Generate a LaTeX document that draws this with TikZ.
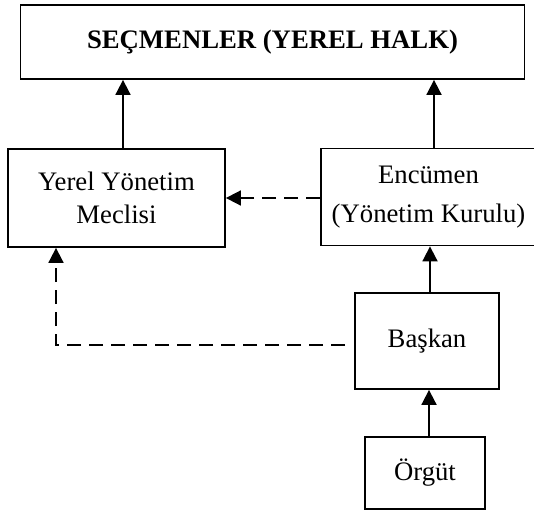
\documentclass[tikz,border=0pt]{standalone}
\usepackage{fontspec}
\setmainfont{Liberation Serif}
\usetikzlibrary{arrows.meta,calc}
\begin{document}
\begin{tikzpicture}[x=1pt,y=1pt,
  box/.style={draw,line width=1.8pt,rectangle,inner sep=0pt,align=center,
    font=\fontsize{26.7}{32.5}\selectfont},
  solidarrow/.style={line width=1.8pt,-{Triangle[length=15pt,width=15pt]}},
  dasharrow/.style={line width=1.8pt,dash pattern=on 14pt off 8pt,
    -{Triangle[length=15pt,width=15pt]}}]
\useasboundingbox (0,0) rectangle (534,-514);

% boxes
\node[box,minimum width=504pt,minimum height=74pt] (voters) at (272.5,-42)
  {\textbf{SEÇMENLER (YEREL HALK)}};
\node[box,minimum width=217pt,minimum height=98pt] (council) at (116.5,-198)
  {Yerel Yönetim\\Meclisi};
\node[box,minimum width=215pt,minimum height=97pt] (committee) at (428.5,-197)
  {Encümen\\[7pt](Yönetim Kurulu)};
\node[box,minimum width=144pt,minimum height=96pt,text height=21pt,text depth=8pt] (mayor) at (427,-341)
  {Başkan};
\node[box,minimum width=120pt,minimum height=72pt] (org) at (425,-473)
  {Örgüt};

% solid connectors
\draw[solidarrow] ([xshift=6.5pt]council.north) -- ([xshift=6.5pt]council.north |- voters.south);
\draw[solidarrow] ([xshift=5.5pt]committee.north) -- ([xshift=5.5pt]committee.north |- voters.south);
\draw[solidarrow] ([xshift=3pt]mayor.north) -- ([xshift=3pt]mayor.north |- committee.south);
\draw[solidarrow] ([xshift=4pt]org.north) -- ([xshift=4pt]org.north |- mayor.south);

% dashed connectors
\draw[dasharrow] (committee.west |- 0,-198) -- (council.east |- 0,-198);
\coordinate (corner) at (56,-345);
\draw[dasharrow] ([xshift=-9pt]mayor.west |- corner) -- (corner) -- (corner |- council.south);
\end{tikzpicture}
\end{document}
